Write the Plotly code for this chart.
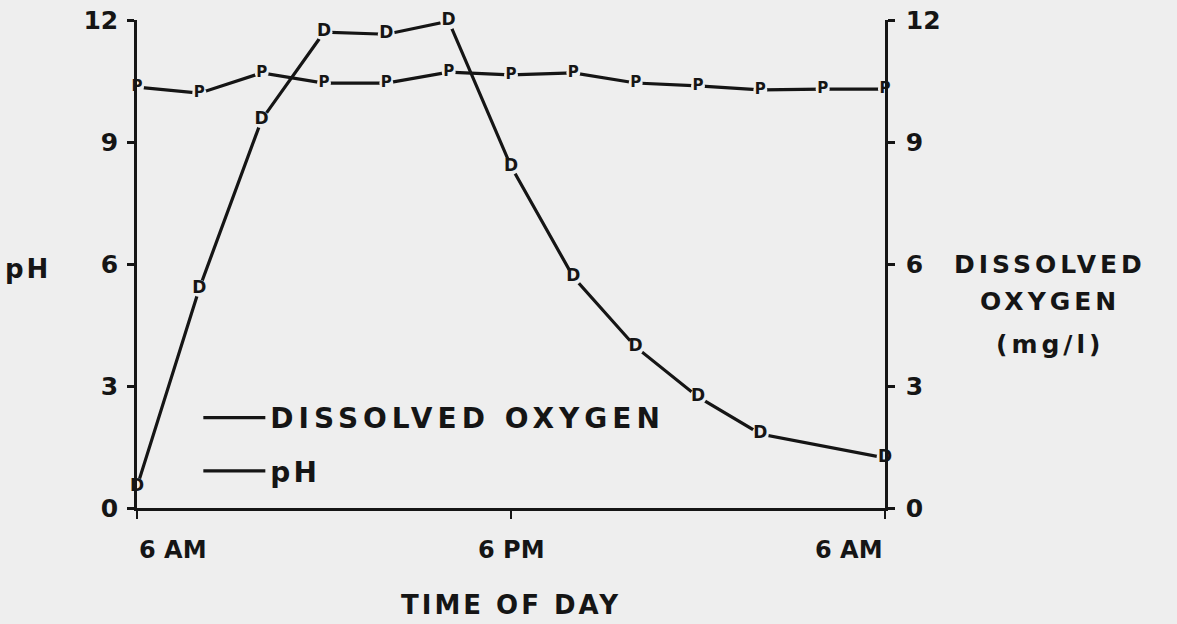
import plotly.graph_objects as go

# ---- data (hours after 6 AM) ----
ph_hours = [0, 2, 4, 6, 8, 10, 12, 14, 16, 18, 20, 22, 24]
ph_values = [10.35, 10.2, 10.7, 10.45, 10.45, 10.72, 10.65, 10.7, 10.45, 10.38, 10.28, 10.3, 10.3]
do_hours = [0, 2, 4, 6, 8, 10, 12, 14, 16, 18, 20, 24]
do_values = [0.52, 5.4, 9.55, 11.7, 11.65, 11.97, 8.4, 5.68, 3.96, 2.73, 1.82, 1.23]
x_tick_vals = [0, 12, 24]
x_tick_text = ["6 AM", "6 PM", "6 AM"]
y_tick_vals = [0, 3, 6, 9, 12]

BG = "#eeeeee"
INK = "#151515"
FONT = "DejaVu Sans"

def spaced(t, ls):
    return f'<span style="letter-spacing:{ls}px">{t}</span>'

fig = go.Figure()

# pH (left axis)
fig.add_trace(go.Scatter(
    x=ph_hours, y=ph_values, mode="lines+markers+text",
    text=["P"] * len(ph_values), textposition="middle center",
    textfont=dict(family=FONT, size=15, color=INK, weight="bold"),
    line=dict(color=INK, width=3.2),
    marker=dict(size=14, color=BG, line=dict(width=0)),
    cliponaxis=False, showlegend=False, yaxis="y",
))
# Dissolved oxygen (right axis)
fig.add_trace(go.Scatter(
    x=do_hours, y=do_values, mode="lines+markers+text",
    text=["D"] * len(do_values), textposition="middle center",
    textfont=dict(family=FONT, size=17, color=INK, weight="bold"),
    line=dict(color=INK, width=3.2),
    marker=dict(size=17, color=BG, line=dict(width=0)),
    cliponaxis=False, showlegend=False, yaxis="y2",
))
# legend entries
fig.add_trace(go.Scatter(x=[None], y=[None], mode="lines", name=spaced("DISSOLVED OXYGEN", 5),
                         line=dict(color=INK, width=3.2), legendgroup="a", showlegend=True))
fig.add_trace(go.Scatter(x=[None], y=[None], mode="lines", name=spaced("pH", 3),
                         line=dict(color=INK, width=3.2), legendgroup="b", showlegend=True))

axis_common = dict(
    range=[0, 12], showline=True, linecolor=INK, linewidth=2.5,
    ticks="outside", tickvals=y_tick_vals, ticklen=7, tickwidth=2.5, tickcolor=INK,
    tickfont=dict(family=FONT, size=25, color=INK, weight="bold"),
    showgrid=False, zeroline=False, fixedrange=True,
)

fig.update_layout(
    width=1177, height=624,
    paper_bgcolor=BG, plot_bgcolor=BG,
    margin=dict(l=137, r=292, t=20, b=116, autoexpand=False),
    xaxis=dict(range=[0, 24], showline=True, linecolor=INK, linewidth=2.5,
               ticks="outside", tickvals=x_tick_vals, ticklen=8, tickwidth=2, tickcolor=INK,
               showticklabels=False, showgrid=False, zeroline=False, fixedrange=True),
    yaxis=dict(**axis_common, side="left", ticklabelstandoff=4),
    yaxis2=dict(**axis_common, side="right", overlaying="y", ticklabelstandoff=6),
    legend=dict(x=0.082, y=0.236, xanchor="left", yanchor="top",
                bgcolor="rgba(0,0,0,0)", itemwidth=62, tracegroupgap=14,
                font=dict(family=FONT, size=28, color=INK, weight="bold")),
    showlegend=True,
)

annots = []
anchors = ["left", "center", "right"]
for v, t, a in zip(x_tick_vals, x_tick_text, anchors):
    annots.append(dict(x=v, xref="x", y=-0.087, yref="paper", text=t, showarrow=False,
                       xanchor=a, yanchor="middle",
                       font=dict(family=FONT, size=24, color=INK, weight="bold")))
annots.append(dict(x=0.5, xref="paper", y=-0.199, yref="paper", text=spaced("TIME OF DAY", 3),
                   showarrow=False, xanchor="center", yanchor="middle",
                   font=dict(family=FONT, size=26, color=INK, weight="bold")))
annots.append(dict(x=(28 - 137) / 748, xref="paper", y=0.49, yref="paper", text=spaced("pH", 3),
                   showarrow=False, xanchor="center", yanchor="middle",
                   font=dict(family=FONT, size=26, color=INK, weight="bold")))
for txt, ypx in [("DISSOLVED", 264), ("OXYGEN", 302), ("(mg/l)", 345)]:
    annots.append(dict(x=(1050 - 137) / 748, xref="paper", y=(508 - ypx) / 488, yref="paper",
                       text=spaced(txt, 4), showarrow=False, xanchor="center", yanchor="middle",
                       font=dict(family=FONT, size=25, color=INK, weight="bold")))
fig.update_layout(annotations=annots)

fig.write_html(
    "out.html",
    config={"displayModeBar": False},
    post_script="document.body.style.margin='0';document.body.style.overflow='hidden';",
)
